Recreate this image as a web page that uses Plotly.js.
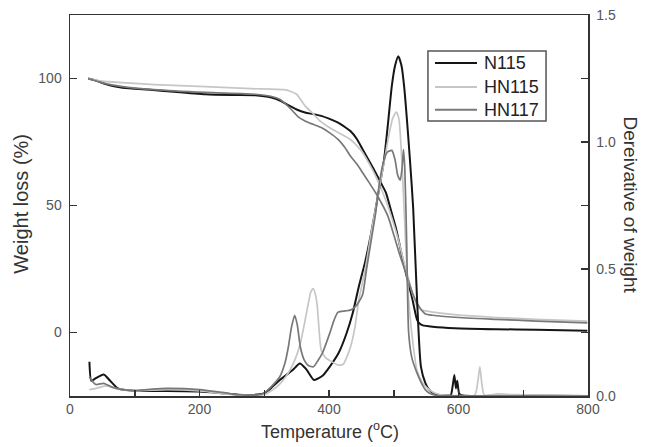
<!DOCTYPE html>
<html>
<head>
<meta charset="utf-8">
<script src="https://cdn.plot.ly/plotly-3.0.1.min.js"></script>
<style>html,body{margin:0;padding:0;background:#fff;}#chart{width:645px;height:447px;}</style>
</head>
<body>
<div id="chart"></div>
<script>
// Series names
const seriesNames = ['N115', 'HN115', 'HN117'];

// TGA (weight loss %) — left axis
const tgaN115X = [28, 40, 55, 70, 81, 100, 145, 209, 250, 286, 311, 325, 337, 350, 363, 375, 388, 400, 414, 425, 433, 443, 452, 462, 472, 480, 488, 496, 504, 512, 520, 525, 529, 533, 536, 540, 545, 560, 594, 658, 720, 799];
const tgaN115Y = [100, 99.2, 97.8, 96.8, 96.4, 96, 95.1, 93.8, 93.5, 93.4, 92.5, 91.2, 89.5, 87.8, 86.6, 86, 85.3, 84.2, 82.6, 80.8, 79.3, 76.2, 72.1, 67.5, 62.9, 59, 55, 47.8, 40.5, 31, 22, 17, 12.9, 8, 5, 3.5, 2.8, 2.3, 1.7, 1.3, 1.1, 0.7];

const tgaHN115X = [28, 50, 81, 130, 209, 280, 330, 340, 350, 363, 376, 385, 395, 405, 414, 424, 433, 443, 452, 462, 472, 482, 491, 499, 507, 515, 523, 530, 536, 542, 549, 560, 594, 658, 720, 799];
const tgaHN115Y = [100, 99, 98.4, 97.6, 96.8, 96, 95.6, 95, 93.8, 89.2, 86, 83.5, 81.6, 80, 78.7, 77.4, 76, 73.6, 70.8, 66.5, 61.6, 55.8, 49.7, 43.5, 36.6, 28.5, 20.8, 14.5, 10.3, 9, 8.5, 8, 7, 5.9, 5.2, 4.5];

const tgaHN117X = [28, 50, 81, 130, 209, 286, 310, 324, 335, 344, 352, 363, 375, 388, 400, 414, 424, 433, 443, 452, 462, 472, 482, 491, 500, 510, 520, 529, 535, 539, 544, 549, 560, 594, 658, 720, 799];
const tgaHN117Y = [100, 98.3, 96.8, 95.6, 94.5, 93.8, 93, 91.8, 89.5, 87.2, 85, 83.3, 82, 80.7, 78.8, 76, 73, 69.5, 66.3, 62.9, 59, 55, 50.5, 45.8, 38.5, 30, 22.5, 15.5, 12, 10.3, 8.5, 7.3, 6.8, 6, 5.2, 4.5, 3.8];

// DTG (derivative of weight) — right axis
const dtgN115X = [30, 33, 40, 52, 62, 74, 100, 150, 200, 230, 260, 280, 299, 310, 324, 343, 355, 365, 377, 390, 401, 415, 427, 437, 446, 456, 465, 475, 485, 491, 497, 502, 507, 512, 516, 520, 525, 530, 536, 542, 549, 555, 562, 570, 580, 588, 591, 593.6, 596, 598, 601, 605, 620, 700, 800];
const dtgN115Y = [0.135, 0.06, 0.07, 0.085, 0.06, 0.03, 0.02, 0.02, 0.018, 0.012, 0.005, 0.004, 0.01, 0.03, 0.063, 0.1, 0.128, 0.105, 0.063, 0.08, 0.115, 0.17, 0.246, 0.33, 0.43, 0.53, 0.64, 0.78, 0.93, 1.07, 1.22, 1.3, 1.338, 1.3, 1.22, 1.1, 0.93, 0.74, 0.38, 0.115, 0.05, 0.024, 0.01, 0.004, 0.002, 0.003, 0.04, 0.083, 0.03, 0.06, 0.01, 0.003, 0, 0.002, 0];

const dtgHN115X = [30, 40, 55, 70, 100, 150, 200, 250, 280, 300, 311, 325, 337, 347, 356, 364, 369, 372, 375.6, 379, 382, 385, 388, 395, 401, 414, 422, 427, 434, 440, 446, 456, 465, 475, 485, 492, 498, 504, 508, 513, 518, 523, 530, 536, 545, 555, 565, 580, 600, 625, 630, 633, 636, 640, 660, 680, 700, 800];
const dtgHN115Y = [0.025, 0.03, 0.04, 0.03, 0.02, 0.025, 0.02, 0.006, 0.003, 0.005, 0.02, 0.05, 0.09, 0.14, 0.21, 0.31, 0.377, 0.41, 0.423, 0.4, 0.35, 0.25, 0.18, 0.15, 0.14, 0.122, 0.125, 0.15, 0.2, 0.27, 0.377, 0.5, 0.64, 0.78, 0.92, 1.02, 1.09, 1.118, 1.09, 0.9, 0.62, 0.38, 0.2, 0.1, 0.05, 0.024, 0.01, 0.003, 0.002, 0.003, 0.06, 0.115, 0.05, 0.004, 0.008, 0.006, 0.005, 0];

const dtgHN117X = [30, 40, 52, 65, 80, 100, 150, 200, 240, 260, 290, 300, 312, 324, 332, 337, 342, 347, 351, 356, 362, 368, 376, 383, 390, 401, 408, 414, 425, 433, 440, 446, 452, 458, 465, 472, 478, 484, 490, 497, 502, 506, 510, 513, 515, 517, 520, 523, 528, 536, 543, 549, 556, 565, 580, 800];
const dtgHN117Y = [0.075, 0.045, 0.05, 0.035, 0.025, 0.022, 0.03, 0.025, 0.012, 0.005, 0.004, 0.012, 0.04, 0.076, 0.13, 0.19, 0.27, 0.318, 0.28, 0.19, 0.14, 0.12, 0.115, 0.14, 0.17, 0.246, 0.30, 0.33, 0.335, 0.338, 0.35, 0.37, 0.40, 0.5, 0.61, 0.72, 0.84, 0.92, 0.96, 0.967, 0.93, 0.87, 0.85, 0.9, 0.97, 0.9, 0.6, 0.25, 0.15, 0.09, 0.05, 0.024, 0.01, 0.003, 0.001, 0];

// Axis tick values
const xTicks = [0, 200, 400, 600, 800];
const yLeftTicks = [0, 50, 100];
const yRightTicks = [0, 0.5, 1.0, 1.5];

const colors = ['#151515', '#c6c6c6', '#787878'];
const widths = [2, 1.7, 1.7];
const FONT = '"Liberation Sans", Arial, sans-serif';

const tgaX = [tgaN115X, tgaHN115X, tgaHN117X];
const tgaY = [tgaN115Y, tgaHN115Y, tgaHN117Y];
const dtgX = [dtgN115X, dtgHN115X, dtgHN117X];
const dtgY = [dtgN115Y, dtgHN115Y, dtgHN117Y];

const traces = [];
for (let i = 0; i < 3; i++) {
  traces.push({
    x: tgaX[i], y: tgaY[i], type: 'scatter', mode: 'lines', name: seriesNames[i],
    line: {color: colors[i], width: widths[i], shape: 'spline', smoothing: 0.6},
    yaxis: 'y', showlegend: false
  });
}
for (let i = 0; i < 3; i++) {
  traces.push({
    x: dtgX[i], y: dtgY[i], type: 'scatter', mode: 'lines', name: seriesNames[i],
    showlegend: false,
    line: {color: colors[i], width: widths[i], shape: 'spline', smoothing: 0.6},
    yaxis: 'y2'
  });
}

// Legend box drawn in paper coordinates (shapes + annotations)
const legBox = {x0: 0.691, x1: 0.919, y0: 0.722, y1: 0.9055};
const legRowsY = [0.874, 0.811, 0.751];
const legLineX = [0.7046, 0.7857];
const legTextX = 0.795;

const shapes = [{
  type: 'rect', xref: 'paper', yref: 'paper',
  x0: legBox.x0, x1: legBox.x1, y0: legBox.y0, y1: legBox.y1,
  line: {color: '#555', width: 1.5}, fillcolor: '#fff', layer: 'above'
}];
const annotations = [
  {text: 'Temperature (<sup>o</sup>C)', xref: 'paper', yref: 'paper', x: 0.502, y: -0.126,
   xanchor: 'center', yanchor: 'bottom', showarrow: false, font: {family: FONT, size: 18, color: '#333'}},
  {text: 'Weight loss (%)', xref: 'paper', yref: 'paper', x: -0.0945, y: 0.505, textangle: -90,
   xanchor: 'center', yanchor: 'middle', showarrow: false, font: {family: FONT, size: 20, color: '#333'}},
  {text: 'Dereivative of weight', xref: 'paper', yref: 'paper', x: 1.083, y: 0.50, textangle: 90,
   xanchor: 'center', yanchor: 'middle', showarrow: false, font: {family: FONT, size: 19, color: '#333'}}
];
for (let i = 0; i < 3; i++) {
  shapes.push({
    type: 'line', xref: 'paper', yref: 'paper',
    x0: legLineX[0], x1: legLineX[1], y0: legRowsY[i], y1: legRowsY[i],
    line: {color: colors[i], width: 2}, layer: 'above'
  });
  annotations.push({
    text: seriesNames[i], xref: 'paper', yref: 'paper', x: legTextX, y: legRowsY[i],
    xanchor: 'left', yanchor: 'middle', showarrow: false,
    font: {family: FONT, size: 18, color: '#222'}
  });
}

const layout = {
  width: 645, height: 447,
  margin: {l: 70, r: 57, t: 15, b: 51},
  paper_bgcolor: '#fff', plot_bgcolor: '#fff',
  font: {family: FONT, color: '#555', size: 14},
  showlegend: false,
  xaxis: {
    range: [0, 800], tickvals: xTicks, ticktext: xTicks.map(String),
    ticks: 'inside', ticklen: 6, tickcolor: '#333', tickwidth: 1.5,
    minor: {dtick: 100, tick0: 0, ticks: 'inside', ticklen: 6, tickcolor: '#333', tickwidth: 1.5},
    showline: true, linecolor: '#333', linewidth: 1.5, mirror: true,
    showgrid: false, zeroline: false,
    tickfont: {family: FONT, size: 14, color: '#555'}
  },
  yaxis: {
    range: [-25, 125], tickvals: yLeftTicks, ticktext: yLeftTicks.map(String),
    ticks: 'inside', ticklen: 7, tickcolor: '#333', tickwidth: 1.5,
    showline: true, linecolor: '#333', linewidth: 1.5,
    showgrid: false, zeroline: false, ticklabelstandoff: 4,
    tickfont: {family: FONT, size: 14, color: '#555'}
  },
  yaxis2: {
    range: [0, 1.5], overlaying: 'y', side: 'right',
    tickvals: yRightTicks, ticktext: yRightTicks.map(v => v.toFixed(1)),
    ticks: 'inside', ticklen: 7, tickcolor: '#333', tickwidth: 1.5,
    minor: {dtick: 0.25, tick0: 0, ticks: 'inside', ticklen: 7, tickcolor: '#333', tickwidth: 1.5},
    showline: true, linecolor: '#333', linewidth: 1.5,
    showgrid: false, zeroline: false, ticklabelstandoff: 4,
    tickfont: {family: FONT, size: 14, color: '#555'}
  },
  shapes: shapes,
  annotations: annotations
};

Plotly.newPlot('chart', traces, layout, {displayModeBar: false, staticPlot: true});
</script>
</body>
</html>
